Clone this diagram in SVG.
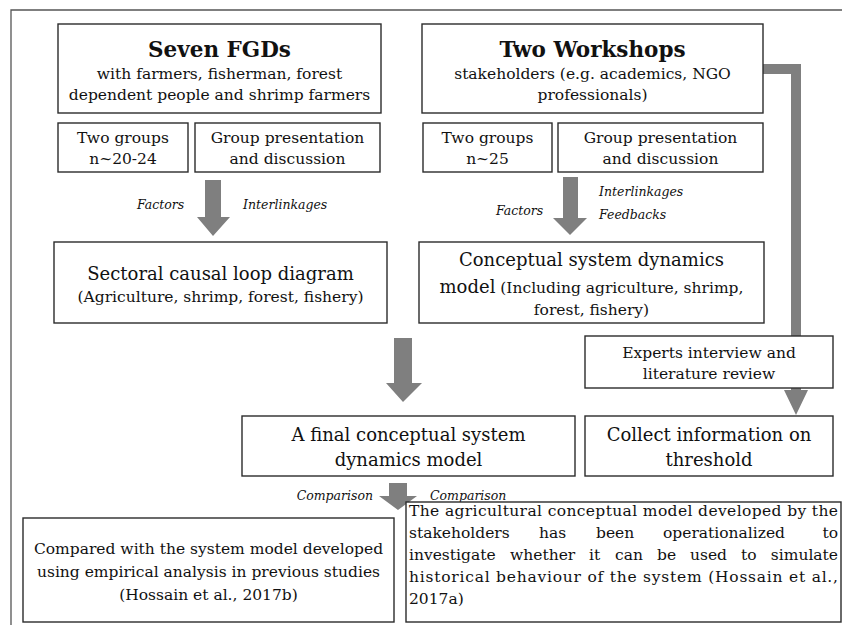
<svg xmlns="http://www.w3.org/2000/svg" width="842" height="625" viewBox="0 0 842 625">
<style>
.box{fill:#fff;stroke:#2b2b2b;stroke-width:1.4}
.t{font-family:"DejaVu Serif","Liberation Serif",serif;fill:#111;text-anchor:middle}
.b{font-size:15.5px}
.big{font-size:18px}
.ttl{font-size:21.5px;font-weight:bold}
.lbl{font-family:"DejaVu Serif","Liberation Serif",serif;font-style:italic;font-size:12.5px;fill:#111}
.arr{fill:#7f7f7f}
.j{font-family:"DejaVu Serif","Liberation Serif",serif;fill:#111;font-size:15.5px}
</style>
<rect width="842" height="625" fill="#fff"/>
<path d="M11,625 V10 H842" fill="none" stroke="#555" stroke-width="1.3"/>

<g id="connectors">
<polygon class="arr" points="205,180 221,180 221,217 230,217 213,236 197,217 205,217"/>
<polygon class="arr" points="563,177 578,177 578,218 587,218 570,235 553,218 563,218"/>
<polygon class="arr" points="394,338 412,338 412,383 422,383 403,402 386,383 394,383"/>
<polygon class="arr" points="389,483 407,483 407,496 417,496 398,510 379,496 389,496"/>
<polygon class="arr" points="763,64 801,64 801,390 808,390 796,415 784,390 791,390 791,74 763,74"/>
<text class="lbl" x="137" y="209">Factors</text>
<text class="lbl" x="243" y="209">Interlinkages</text>
<text class="lbl" x="496" y="215">Factors</text>
<text class="lbl" x="599" y="196">Interlinkages</text>
<text class="lbl" x="599" y="219">Feedbacks</text>
<text class="lbl" x="373" y="500" text-anchor="end">Comparison</text>
<text class="lbl" x="430" y="500">Comparison</text>
</g>

<g id="fgd">
<rect class="box" x="58" y="24" width="323" height="89"/>
<text class="t ttl" x="219.5" y="57">Seven FGDs</text>
<text class="t b" x="219.5" y="79">with farmers, fisherman, forest</text>
<text class="t b" x="219.5" y="100">dependent people and shrimp farmers</text>
</g>
<g id="workshops">
<rect class="box" x="422" y="24" width="341" height="89"/>
<text class="t ttl" x="592.5" y="57">Two Workshops</text>
<text class="t b" x="592.5" y="79">stakeholders (e.g. academics, NGO</text>
<text class="t b" x="592.5" y="100">professionals)</text>
</g>
<g id="fgd-groups">
<rect class="box" x="58" y="123" width="130" height="49"/>
<text class="t b" x="123" y="143">Two groups</text>
<text class="t b" x="123" y="164">n~20-24</text>
</g>
<g id="fgd-presentation">
<rect class="box" x="195" y="123" width="185" height="49"/>
<text class="t b" x="287.5" y="143">Group presentation</text>
<text class="t b" x="287.5" y="164">and discussion</text>
</g>
<g id="ws-groups">
<rect class="box" x="423" y="123" width="129" height="49"/>
<text class="t b" x="487.5" y="143">Two groups</text>
<text class="t b" x="487.5" y="164">n~25</text>
</g>
<g id="ws-presentation">
<rect class="box" x="558" y="123" width="205" height="49"/>
<text class="t b" x="660.5" y="143">Group presentation</text>
<text class="t b" x="660.5" y="164">and discussion</text>
</g>
<g id="sectoral">
<rect class="box" x="54" y="242" width="333" height="81"/>
<text class="t big" x="220.5" y="280">Sectoral causal loop diagram</text>
<text class="t b" x="220.5" y="302">(Agriculture, shrimp, forest, fishery)</text>
</g>
<g id="conceptual">
<rect class="box" x="419" y="242" width="345" height="81"/>
<text class="t big" x="591.5" y="266">Conceptual system dynamics</text>
<text class="t big" x="591.5" y="293">model<tspan class="b"> (Including agriculture, shrimp,</tspan></text>
<text class="t b" x="591.5" y="315">forest, fishery)</text>
</g>
<g id="experts">
<rect class="box" x="585" y="336" width="248" height="52"/>
<text class="t b" x="709" y="358">Experts interview and</text>
<text class="t b" x="709" y="379">literature review</text>
</g>
<g id="final">
<rect class="box" x="242" y="416" width="333" height="60"/>
<text class="t big" x="408.5" y="441">A final conceptual system</text>
<text class="t big" x="408.5" y="466">dynamics model</text>
</g>
<g id="threshold">
<rect class="box" x="585" y="416" width="248" height="60"/>
<text class="t big" x="709" y="441">Collect information on</text>
<text class="t big" x="709" y="466">threshold</text>
</g>
<g id="compared">
<rect class="box" x="23" y="518" width="371" height="104"/>
<text class="t b" x="208.5" y="554">Compared with the system model developed</text>
<text class="t b" x="208.5" y="577">using empirical analysis in previous studies</text>
<text class="t b" x="208.5" y="600">(Hossain et al., 2017b)</text>
</g>
<g id="agricultural">
<rect class="box" x="406" y="502" width="435" height="120"/>
<text class="j" x="409" y="516" textLength="429" lengthAdjust="spacing">The agricultural conceptual model developed by the</text>
<text class="j" y="538"><tspan x="409">stakeholders</tspan><tspan x="539">has</tspan><tspan x="596">been</tspan><tspan x="663">operationalized</tspan><tspan x="838" text-anchor="end">to</tspan></text>
<text class="j" y="560"><tspan x="409">investigate</tspan><tspan x="510">whether</tspan><tspan x="589">it</tspan><tspan x="615">can</tspan><tspan x="657">be</tspan><tspan x="690">used</tspan><tspan x="741">to</tspan><tspan x="838" text-anchor="end">simulate</tspan></text>
<text class="j" x="409" y="582" textLength="429" lengthAdjust="spacing">historical behaviour of the system (Hossain et al.,</text>
<text class="j" x="409" y="604">2017a)</text>
</g>
</svg>
